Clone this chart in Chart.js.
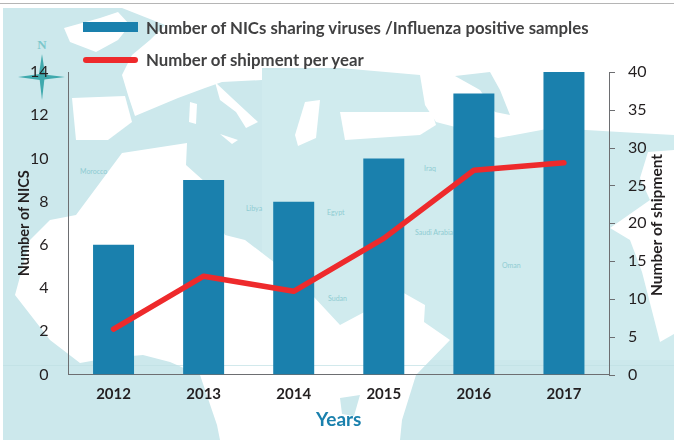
<!DOCTYPE html>
<html>
<head>
<meta charset="utf-8">
<title>NICs and shipments</title>
<script src="https://cdn.jsdelivr.net/npm/chart.js@4"></script>
<style>
    html, body { margin: 0; padding: 0; background: #fff; }
    #wrap { position: relative; width: 674px; height: 446px; overflow: hidden; font-family: Lato, "Open Sans", sans-serif; }
    #map, #chart { position: absolute; left: 0; top: 0; }
    .legendRow { position: absolute; left: 146px; font-size: 16.8px; font-weight: 700; color: #404041; white-space: nowrap; line-height: 20px; }
    .swatch { position: absolute; left: 83px; width: 55px; }
</style>
</head>
<body>
<div id="wrap">
    <!-- background map, only decoration -->
    <svg id="map" width="674" height="446" font-family="Lato, sans-serif" font-size="7" fill="#8fcbd2">
        <rect x="0" y="0" width="674" height="446" fill="#fff"/>
        <rect x="0" y="3" width="674" height="1" fill="#b5b5b5"/>
        <rect x="3" y="8" width="671" height="432" fill="#cce8ec"/>
        <rect x="262" y="70" width="412" height="290" fill="#d0ebee"/>
        <g fill="#fff">
            <polygon points="64,28 100,18 118,12 130,25 118,40 96,52 70,42"/>
            <polygon points="122,8 320,8 674,8 674,135 620,132 552,128 498,138 436,122 425,105 420,75 340,68 262,68 262,80 222,82 205,88 178,98 135,116 128,95 122,75 132,55 150,40 165,25"/>
            <polygon points="340,112 432,112 436,125 420,135 345,140"/>
            <polygon points="72,98 125,96 132,122 108,140 76,140"/>
            <polygon points="215,82 232,98 258,122 246,128 236,112 220,100"/>
            <polygon points="305,102 320,100 316,138 298,146 295,135"/>
            <polygon points="190,102 197,104 196,124 189,122"/>
            <polygon points="220,134 238,140 232,144"/>
            <polygon points="76,215 122,153 187,143 186,165 205,182 208,200 225,235 245,240 300,282 340,325 402,292 425,305 424,322 450,340 416,375 402,420 400,440 220,440 217,425 200,375 170,362 143,355 108,358 80,363 50,340 15,295 30,240 50,220"/>
            <polygon points="610,228 630,240 642,272 660,342 674,334 674,150 648,152 640,178 650,200"/>
        </g>
        <g fill="#cce8ec">
            <polygon points="455,76 490,72 500,90 510,115 495,112 480,90"/>
            <polygon points="340,398 360,395 354,416 342,414"/>
        </g>
        <rect x="3" y="365" width="671" height="1" fill="#bfe0e4" opacity="0.7"/>
        <text x="80" y="174">Morocco</text>
        <text x="246" y="211">Libya</text>
        <text x="327" y="215">Egypt</text>
        <text x="424" y="171">Iraq</text>
        <text x="415" y="235">Saudi Arabia</text>
        <text x="502" y="268">Oman</text>
        <text x="328" y="301">Sudan</text>
        <!-- compass -->
        <g fill="#3fa9ad">
            <text x="42" y="49" font-size="13" text-anchor="middle" fill="#7cc7cb" font-family="'Liberation Serif', serif" font-weight="700">N</text>
            <polygon points="42,54 45,74 42,100 39,74"/>
            <polygon points="18,77 40,74 65,77 40,80"/>
        </g>
    </svg>

    <canvas id="chart" width="674" height="446"></canvas>

    <div class="swatch" style="top:22px;height:10px;background:#1a80ad"></div>
    <div class="legendRow" style="top:18px" id="legendBars"></div>
    <div class="swatch" style="top:57px;height:6px;border-radius:3px;background:#ee2a2c"></div>
    <div class="legendRow" style="top:50px" id="legendLine"></div>
</div>

<script>
const years = ['2012', '2013', '2014', '2015', '2016', '2017'];
const nicValues = [6, 9, 8, 10, 13, 14];
const shipmentValues = [6, 13, 11, 18, 27, 28];
const barLabel = 'Number of NICs sharing viruses /Influenza positive samples';
const lineLabel = 'Number of shipment per year';

const fontFamily = 'Lato, "Open Sans", sans-serif';
const axisColor = '#6d6e71';

document.getElementById('legendBars').textContent = barLabel;
document.getElementById('legendLine').textContent = lineLabel;

// Draws the right axis ticks (long every 5) and its title, which reads upward
const rightAxisExtras = {
    id: 'rightAxisExtras',
    afterDraw(chart) {
        const ctx = chart.ctx;
        const scale = chart.scales.y1;
        ctx.save();
        ctx.strokeStyle = axisColor;
        ctx.lineWidth = 1;
        scale.ticks.forEach((tick) => {
            const y = Math.round(scale.getPixelForValue(tick.value)) + 0.5;
            const len = tick.value % 5 === 0 ? 6 : 4;
            ctx.beginPath();
            ctx.moveTo(scale.left, y);
            ctx.lineTo(scale.left + len, y);
            ctx.stroke();
        });
        ctx.translate(657, 225);
        ctx.rotate(-Math.PI / 2);
        ctx.fillStyle = '#231f20';
        ctx.font = '700 15.5px ' + fontFamily;
        ctx.textAlign = 'center';
        ctx.textBaseline = 'middle';
        ctx.fillText('Number of shipment', 0, 0);
        ctx.restore();
    }
};

new Chart(document.getElementById('chart').getContext('2d'), {
    type: 'bar',
    data: {
        labels: years,
        datasets: [
            {
                type: 'line',
                label: lineLabel,
                data: shipmentValues,
                yAxisID: 'y1',
                borderColor: '#ee2a2c',
                borderWidth: 5.5,
                borderCapStyle: 'round',
                borderJoinStyle: 'round',
                pointRadius: 0,
                tension: 0,
                order: 1
            },
            {
                type: 'bar',
                label: barLabel,
                data: nicValues,
                yAxisID: 'y',
                backgroundColor: '#1a80ad',
                categoryPercentage: 1,
                barPercentage: 0.455,
                order: 2
            }
        ]
    },
    options: {
        responsive: false,
        animation: false,
        layout: { padding: { top: 72, right: 0, bottom: 0, left: 16 } },
        plugins: { legend: { display: false }, tooltip: { enabled: false } },
        scales: {
            x: {
                grid: { display: false },
                border: { color: axisColor, width: 1 },
                ticks: { color: '#231f20', padding: 3, font: { family: fontFamily, size: 15, weight: '700' } },
                title: {
                    display: true,
                    text: 'Years',
                    color: '#1a80ad',
                    padding: { top: 0, bottom: 15 },
                    font: { family: fontFamily, size: 19, weight: '700' }
                },
                afterFit(scale) { scale.height = 71.5; }
            },
            y: {
                position: 'left',
                min: 0,
                max: 14,
                grid: { display: false },
                border: { color: axisColor, width: 1 },
                ticks: { stepSize: 2, color: '#231f20', padding: 12, font: { family: fontFamily, size: 16 } },
                title: {
                    display: true,
                    text: 'Number of NICS',
                    color: '#231f20',
                    padding: { top: 0, bottom: 4 },
                    font: { family: fontFamily, size: 14.5, weight: '700' }
                },
                afterFit(scale) { scale.width = 52.5; }
            },
            y1: {
                position: 'right',
                min: 0,
                max: 40,
                grid: { display: false },
                border: { color: axisColor, width: 1 },
                ticks: {
                    stepSize: 1,
                    autoSkip: false,
                    color: '#231f20',
                    padding: 11,
                    font: { family: fontFamily, size: 16 },
                    callback: (value) => (value % 5 === 0 ? value : null)
                },
                afterFit(scale) { scale.width = 65; }
            }
        }
    },
    plugins: [rightAxisExtras]
});
</script>
</body>
</html>
